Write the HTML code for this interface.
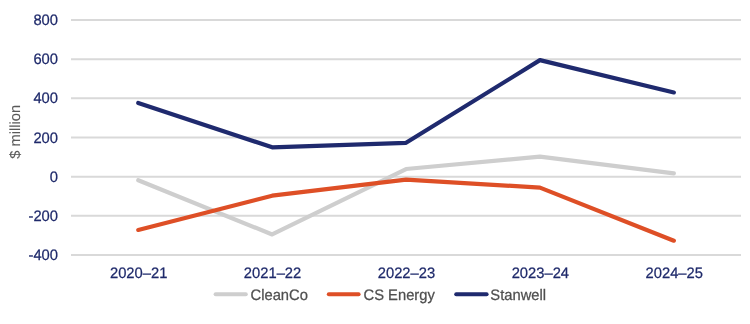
<!DOCTYPE html>
<html><head><meta charset="utf-8"><style>
html,body{margin:0;padding:0;background:#fff;}
svg{display:block;will-change:transform;text-rendering:geometricPrecision;font-family:"Liberation Sans",sans-serif;}
</style></head><body>
<svg width="750" height="324" viewBox="0 0 750 324">
<g><line x1="71" x2="741" y1="20.00" y2="20.00" stroke="#d9d9d9" stroke-width="2"/><line x1="71" x2="741" y1="59.17" y2="59.17" stroke="#d9d9d9" stroke-width="2"/><line x1="71" x2="741" y1="98.33" y2="98.33" stroke="#d9d9d9" stroke-width="2"/><line x1="71" x2="741" y1="137.50" y2="137.50" stroke="#d9d9d9" stroke-width="2"/><line x1="71" x2="741" y1="176.67" y2="176.67" stroke="#d9d9d9" stroke-width="2"/><line x1="71" x2="741" y1="215.83" y2="215.83" stroke="#d9d9d9" stroke-width="2"/><line x1="71" x2="741" y1="255.00" y2="255.00" stroke="#d9d9d9" stroke-width="2"/></g>
<g font-size="14.75"><text transform="matrix(1 0 0 1.03 0 -0.750)" x="58.00" y="25.00" text-anchor="end" fill="#1f2a6b" stroke="#1f2a6b" stroke-width="0.25">800</text><text transform="matrix(1 0 0 1.03 0 -1.925)" x="58.00" y="64.17" text-anchor="end" fill="#1f2a6b" stroke="#1f2a6b" stroke-width="0.25">600</text><text transform="matrix(1 0 0 1.03 0 -3.100)" x="58.00" y="103.33" text-anchor="end" fill="#1f2a6b" stroke="#1f2a6b" stroke-width="0.25">400</text><text transform="matrix(1 0 0 1.03 0 -4.275)" x="58.00" y="142.50" text-anchor="end" fill="#1f2a6b" stroke="#1f2a6b" stroke-width="0.25">200</text><text transform="matrix(1 0 0 1.03 0 -5.450)" x="58.00" y="181.67" text-anchor="end" fill="#1f2a6b" stroke="#1f2a6b" stroke-width="0.25">0</text><text transform="matrix(1 0 0 1.03 0 -6.625)" x="58.00" y="220.83" text-anchor="end" fill="#1f2a6b" stroke="#1f2a6b" stroke-width="0.25">-200</text><text transform="matrix(1 0 0 1.03 0 -7.800)" x="58.00" y="260.00" text-anchor="end" fill="#1f2a6b" stroke="#1f2a6b" stroke-width="0.25">-400</text><text transform="matrix(1 0 0 1.03 0 -8.328)" x="138.65" y="277.60" text-anchor="middle" fill="#1f2a6b" stroke="#1f2a6b" stroke-width="0.25">2020–21</text><text transform="matrix(1 0 0 1.03 0 -8.328)" x="272.55" y="277.60" text-anchor="middle" fill="#1f2a6b" stroke="#1f2a6b" stroke-width="0.25">2021–22</text><text transform="matrix(1 0 0 1.03 0 -8.328)" x="406.45" y="277.60" text-anchor="middle" fill="#1f2a6b" stroke="#1f2a6b" stroke-width="0.25">2022–23</text><text transform="matrix(1 0 0 1.03 0 -8.328)" x="540.35" y="277.60" text-anchor="middle" fill="#1f2a6b" stroke="#1f2a6b" stroke-width="0.25">2023–24</text><text transform="matrix(1 0 0 1.03 0 -8.328)" x="674.25" y="277.60" text-anchor="middle" fill="#1f2a6b" stroke="#1f2a6b" stroke-width="0.25">2024–25</text></g>
<text transform="translate(20.35,131.8) rotate(-90)" text-anchor="middle" font-size="14.7" fill="#595959" stroke="#595959" stroke-width="0.12">$ million</text>
<g fill="none" stroke-width="4.2" stroke-linecap="round" stroke-linejoin="round">
<polyline points="138.25,180.19 272.15,234.44 406.05,169.03 539.95,156.69 673.85,173.34" stroke="#cecece"/>
<polyline points="138.25,229.93 272.15,195.66 406.05,179.60 539.95,187.63 673.85,240.70" stroke="#de4f26"/>
<polyline points="138.25,103.03 272.15,147.29 406.05,142.79 539.95,60.15 673.85,92.46" stroke="#1f2a6e"/>
</g>
<g font-size="14.75">
<line x1="215.6" x2="245.8" y1="294.2" y2="294.2" stroke="#cecece" stroke-width="4.0" stroke-linecap="round"/>
<text transform="matrix(1 0 0 1.03 0 -8.993)" x="250.50" y="299.75" text-anchor="start" fill="#4f4f4f" stroke="#4f4f4f" stroke-width="0.25">CleanCo</text>
<line x1="328.8" x2="358.6" y1="294.2" y2="294.2" stroke="#de4f26" stroke-width="4.0" stroke-linecap="round"/>
<text transform="matrix(1 0 0 1.03 0 -8.993)" x="363.50" y="299.75" text-anchor="start" fill="#4f4f4f" stroke="#4f4f4f" stroke-width="0.25">CS Energy</text>
<line x1="456.2" x2="486.6" y1="294.2" y2="294.2" stroke="#1f2a6e" stroke-width="4.0" stroke-linecap="round"/>
<text transform="matrix(1 0 0 1.03 0 -8.993)" x="490.30" y="299.75" text-anchor="start" fill="#4f4f4f" stroke="#4f4f4f" stroke-width="0.25">Stanwell</text>
</g>
</svg>
</body></html>
